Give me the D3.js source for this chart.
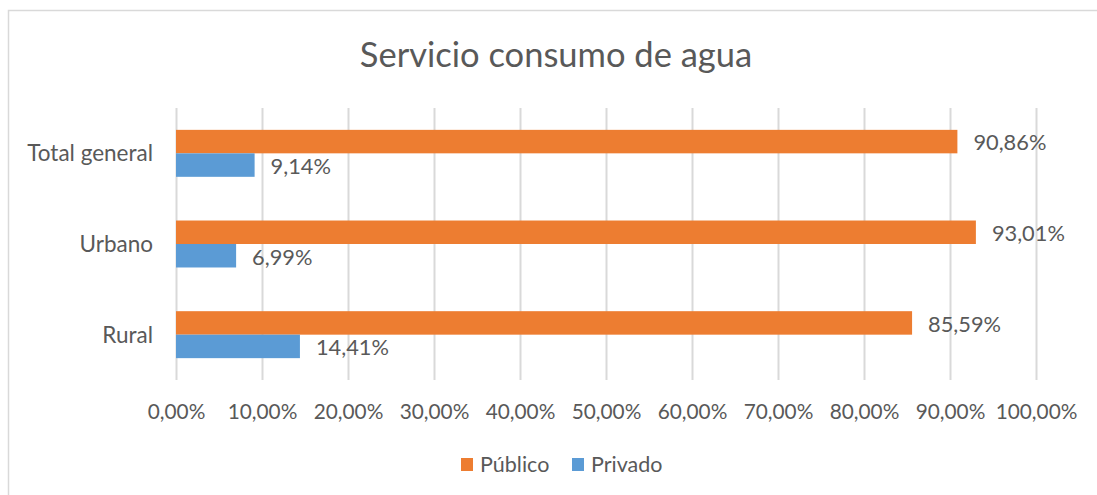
<!DOCTYPE html>
<html>
<head>
<meta charset="utf-8">
<script src="https://cdn.jsdelivr.net/npm/d3@7"></script>
<style>
  body { margin: 0; background: #fff; }
  svg text { font-family: Lato, "Open Sans", sans-serif; fill: #595959; }
</style>
</head>
<body>
<div id="grafico"></div>
<script>
// Datos del grafico
var categorias = ['Total general', 'Urbano', 'Rural'];
var series = ['Público', 'Privado'];
var valoresPublico = [0.9086, 0.9301, 0.8559];
var valoresPrivado = [0.0914, 0.0699, 0.1441];
var ticksX = [0, 0.1, 0.2, 0.3, 0.4, 0.5, 0.6, 0.7, 0.8, 0.9, 1.0];
var colores = {'Público': '#ED7D31', 'Privado': '#5B9BD5'};

var ancho = 1097, alto = 495;
var margen = {top: 108, right: 61, bottom: 115, left: 176};

// formato con coma decimal
var formato = function(v, dec) {
  return (v * 100).toFixed(dec).replace('.', ',') + '%';
};

var svg = d3.select('#grafico').append('svg')
    .attr('width', ancho)
    .attr('height', alto);

// marco del grafico
svg.append('rect')
    .attr('x', 8.5).attr('y', 10.5)
    .attr('width', 1100).attr('height', 500)
    .attr('fill', 'none')
    .attr('stroke', '#D9D9D9')
    .attr('stroke-width', 1.5);

svg.append('text')
    .attr('x', 556).attr('y', 67)
    .attr('text-anchor', 'middle')
    .style('font-size', '34.5px')
    .text('Servicio consumo de agua');

var x = d3.scaleLinear().domain([0, 1]).range([margen.left, ancho - margen.right]);
var y = d3.scaleBand().domain(categorias)
    .range([margen.top, alto - margen.bottom])
    .paddingInner(0.482).paddingOuter(0.241);
var ySerie = d3.scaleBand().domain(series).range([0, y.bandwidth()]);

// eje X con lineas de cuadricula
var ejeX = svg.append('g')
    .attr('transform', 'translate(0,' + (alto - margen.bottom) + ')')
    .call(d3.axisBottom(x)
      .tickValues(ticksX)
      .tickSize(-(alto - margen.top - margen.bottom))
      .tickPadding(0)
      .tickFormat(function(d) { return formato(d, 2); }));
ejeX.select('.domain').remove();
ejeX.selectAll('line').attr('stroke', '#D9D9D9').attr('stroke-width', 2);
ejeX.selectAll('text')
    .attr('y', 39).attr('dy', null)
    .style('font-size', '20.8px')
    .style('font-family', null)
    .attr('fill', '#595959');

// etiquetas de categorias
svg.selectAll('.cat')
    .data(categorias)
    .enter().append('text')
    .attr('class', 'cat')
    .attr('x', margen.left - 23)
    .attr('y', function(d) { return y(d) + y.bandwidth() / 2; })
    .attr('dy', '0.36em')
    .attr('text-anchor', 'end')
    .style('font-size', '22.5px')
    .text(function(d) { return d; });

var datos = [];
categorias.forEach(function(c, i) {
  datos.push({cat: c, serie: 'Público', valor: valoresPublico[i]});
  datos.push({cat: c, serie: 'Privado', valor: valoresPrivado[i]});
});

svg.selectAll('.barra')
    .data(datos)
    .enter().append('rect')
    .attr('class', 'barra')
    .attr('x', x(0))
    .attr('y', function(d) { return y(d.cat) + ySerie(d.serie); })
    .attr('width', function(d) { return x(d.valor) - x(0); })
    .attr('height', ySerie.bandwidth())
    .attr('fill', function(d) { return colores[d.serie]; });

svg.selectAll('.etiqueta')
    .data(datos)
    .enter().append('text')
    .attr('class', 'etiqueta')
    .attr('x', function(d) { return x(d.valor) + 16; })
    .attr('y', function(d) { return y(d.cat) + ySerie(d.serie) + ySerie.bandwidth() / 2 + 1; })
    .attr('dy', '0.36em')
    .style('font-size', '21.8px')
    .text(function(d) { return formato(d.valor, 2); });

// leyenda
var leyenda = svg.append('g');
var posLeyenda = [461, 572];
series.forEach(function(s, i) {
  leyenda.append('rect')
      .attr('x', posLeyenda[i]).attr('y', 458)
      .attr('width', 12).attr('height', 13)
      .attr('fill', colores[s]);
  leyenda.append('text')
      .attr('x', posLeyenda[i] + 19).attr('y', 472)
      .style('font-size', '21.5px')
      .text(s);
});
</script>
</body>
</html>
